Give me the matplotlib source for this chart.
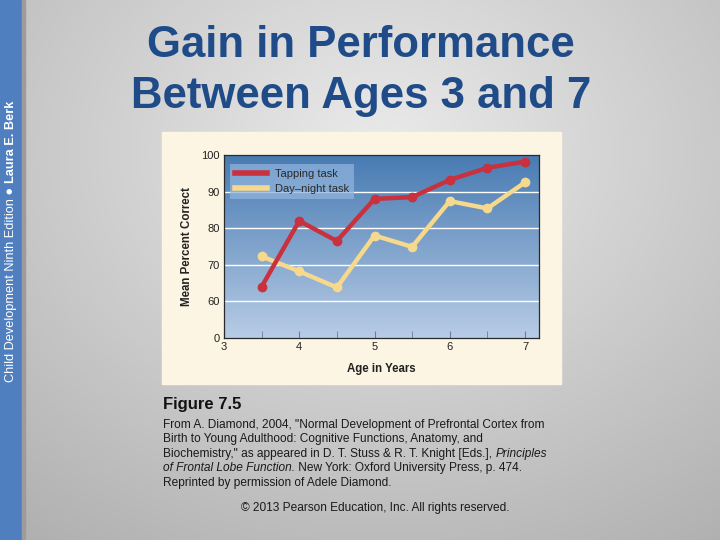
import numpy as np
import matplotlib
matplotlib.use("Agg")
import matplotlib.pyplot as plt
from matplotlib.patches import Rectangle

plt.rcParams['font.family'] = ['Liberation Sans', 'DejaVu Sans']

# data
ages = [3.5, 4.0, 4.5, 5.0, 5.5, 6.0, 6.5, 7.0]
tapping = [64.0, 82.0, 76.5, 88.0, 88.5, 93.2, 96.5, 98.2]
day_night = [72.3, 68.2, 63.8, 78.0, 74.9, 87.4, 85.4, 92.5]
x_ticks = [3, 4, 5, 6, 7]
# broken y axis: the "0" label sits one step below 60
y_tick_pos = [50, 60, 70, 80, 90, 100]
y_tick_labels = ["0", "60", "70", "80", "90", "100"]

title = "Gain in Performance\nBetween Ages 3 and 7"
caption_lines = [
    [("From A. Diamond, 2004, \"Normal Development of Prefrontal Cortex from", "normal")],
    [("Birth to Young Adulthood: Cognitive Functions, Anatomy, and", "normal")],
    [("Biochemistry,\" as appeared in D. T. Stuss & R. T. Knight [Eds.], ", "normal"),
     ("Principles", "italic")],
    [("of Frontal Lobe Function.", "italic"),
     (" New York: Oxford University Press, p. 474.", "normal")],
    [("Reprinted by permission of Adele Diamond.", "normal")],
]

W, H = 720, 540
fig = plt.figure(figsize=(7.2, 5.4), dpi=100)

# slide background: soft gray radial gradient
bg = fig.add_axes([0, 0, 1, 1])
yy, xx = np.mgrid[0:H, 0:W]
r = np.sqrt(((xx - 380) / 520.0) ** 2 + ((yy - 150) / 420.0) ** 2)
shade = np.clip(0.92 - 0.2 * r, 0.68, 0.92)
bg.imshow(np.dstack([shade] * 3), extent=[0, W, H, 0], aspect='auto')
bg.set_xlim(0, W)
bg.set_ylim(H, 0)
bg.axis('off')

# left book strip
bg.add_patch(Rectangle((0, 0), 22, H, color='#4f7fbf', zorder=2))
bg.add_patch(Rectangle((22, 0), 2.5, H, color='#9c9c9c', zorder=2))

# title
bg.text(361, 71, title, ha='center', va='center', fontsize=31.5, fontweight='bold',
        color='#1f4c88', linespacing=1.33, zorder=3)

# chart panel
bg.add_patch(Rectangle((162, 132), 399, 252, color='#fdf5e3', zorder=2))

fig.canvas.draw()
renderer = fig.canvas.get_renderer()

# vertical strip text
t1 = bg.text(11, 382, "Child Development Ninth Edition \u25cf ", rotation=90,
             ha='center', va='bottom', fontsize=9.2, color='white', zorder=3)
ext = t1.get_window_extent(renderer)
y_top = H - ext.y1
bg.text(11, y_top, "Laura E. Berk", rotation=90, ha='center', va='bottom',
        fontsize=9.2, fontweight='bold', color='white', zorder=3)

# caption
bg.text(163, 405, "Figure 7.5", ha='left', va='center', fontsize=12,
        fontweight='bold', color='#111111', zorder=3)
for i, segs in enumerate(caption_lines):
    x = 163
    y = 425 + i * 14.4
    for s, style in segs:
        t = bg.text(x, y, s, ha='left', va='center', fontsize=8.6, style=style,
                    color='#1a1a1a', zorder=3)
        e = t.get_window_extent(renderer)
        x += e.width
bg.text(375, 508, "\u00a9 2013 Pearson Education, Inc. All rights reserved.",
        ha='center', va='center', fontsize=8.6, color='#1a1a1a', zorder=3)

# chart axes
ax = fig.add_axes([224 / W, 1 - 338 / H, 315 / W, 183 / H])
xmin, xmax = 3, 7.186
ax.set_xlim(xmin, xmax)
ax.set_ylim(50, 100)
grad = np.linspace(0, 1, 256)[:, None]
top = np.array([0.28, 0.48, 0.70])
bot = np.array([0.72, 0.80, 0.90])
img = top * (1 - grad[..., None]) + bot * grad[..., None]
ax.imshow(img, extent=[xmin, xmax, 50, 100], aspect='auto', zorder=0)
for g in [60, 70, 80, 90]:
    ax.axhline(g, color='white', lw=1.0, zorder=1)

ax.plot(ages, tapping, color='#c8313d', lw=3.2, marker='o', ms=6, zorder=4,
        label="Tapping task")
ax.plot(ages, day_night, color='#f6d98c', lw=3.2, marker='o', ms=6, zorder=3,
        label="Day\u2013night task")

ax.set_xticks(x_ticks)
ax.set_xticks(ages, minor=True)
ax.set_yticks(y_tick_pos)
ax.set_yticklabels(y_tick_labels)
ax.tick_params(axis='x', which='both', direction='in', length=5, color='#6d7f95',
               labelsize=8, labelcolor='#222222', pad=3)
ax.tick_params(axis='y', length=0, labelsize=8, labelcolor='#222222', pad=3)
for sp in ax.spines.values():
    sp.set_color('#2a2a2a')
    sp.set_linewidth(0.9)

ax.set_xlabel("Age in Years", fontsize=8.3, fontweight='bold', color='#222222',
              labelpad=8)
ax.set_ylabel("Mean Percent Correct", fontsize=8.3, fontweight='bold',
              color='#222222', labelpad=6)

leg = ax.legend(loc='upper left', bbox_to_anchor=(0.005, 0.975), fontsize=8,
                frameon=True, fancybox=False, handlelength=2.9, handletextpad=0.7,
                borderpad=0.45, labelspacing=0.45, borderaxespad=0.4)
leg.get_frame().set_facecolor('#8fb3dc')
leg.get_frame().set_alpha(0.75)
leg.get_frame().set_linewidth(0)
for h in leg.legend_handles:
    h.set_marker('')
    h.set_linewidth(4)
for t in leg.get_texts():
    t.set_color('#2a2a2a')

fig.savefig("out.png", dpi=100)
